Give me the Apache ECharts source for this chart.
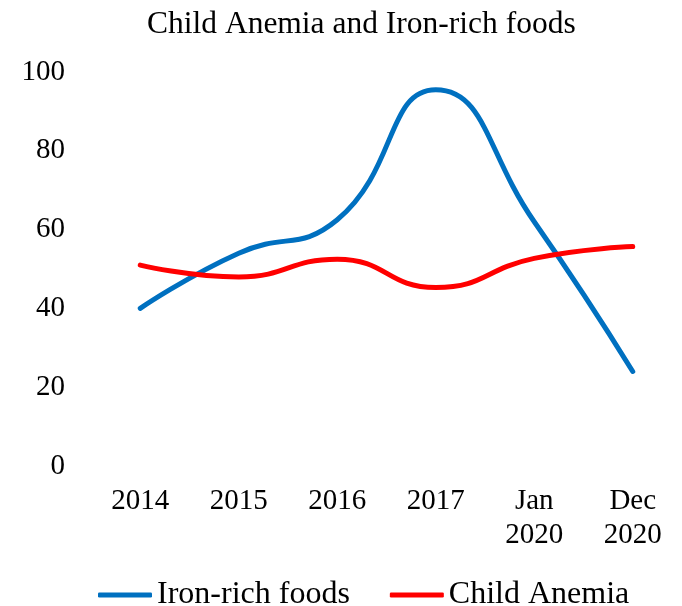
<!DOCTYPE html>
<html>
<head>
<meta charset="utf-8">
<script src="https://cdn.jsdelivr.net/npm/echarts@6/dist/echarts.min.js"></script>
<style>
  html, body { margin: 0; padding: 0; background: #fff; }
  #chart { width: 682px; height: 606px; }
</style>
</head>
<body>
<div id="chart"></div>
<script>
var categories = ['2014', '2015', '2016', '2017', 'Jan\n2020', 'Dec\n2020'];
var ironRichFoods = [40, 54, 62.5, 95.5, 62, 24];
var childAnemia = [51, 48, 52.5, 45.3, 52.7, 55.7];
var yTicks = { min: 0, max: 100, interval: 20 };

var font = '"Liberation Serif", "Times New Roman", serif';
var chart = echarts.init(document.getElementById('chart'));

var option = {
    animation: false,
    title: {
        text: 'Child Anemia and Iron-rich foods',
        left: 142,
        top: 4,
        textStyle: { fontFamily: font, fontSize: 31.5, fontWeight: 'normal', color: '#000' }
    },
    legend: {
        left: 93,
        top: 574,
        itemWidth: 54,
        itemHeight: 5,
        itemGap: 40,
        icon: 'roundRect',
        textStyle: { fontFamily: font, fontSize: 32, color: '#000' },
        data: ['Iron-rich foods', 'Child Anemia']
    },
    grid: { left: 91, right: -4, top: 72, bottom: 140 },
    xAxis: {
        type: 'category',
        data: categories,
        axisLine: { show: false },
        axisTick: { show: false },
        axisLabel: { fontFamily: font, fontSize: 29, color: '#000', lineHeight: 34, margin: 18 }
    },
    yAxis: {
        type: 'value',
        min: yTicks.min,
        max: yTicks.max,
        interval: yTicks.interval,
        splitLine: { show: false },
        axisLine: { show: false },
        axisTick: { show: false },
        axisLabel: { fontFamily: font, fontSize: 29, color: '#000', margin: 26 }
    },
    series: [
        {
            name: 'Iron-rich foods', type: 'line', smooth: true, data: ironRichFoods,
            showSymbol: false, symbol: 'none',
            itemStyle: { color: '#0070C0' },
            lineStyle: { color: '#0070C0', width: 5, cap: 'round' }
        },
        {
            name: 'Child Anemia', type: 'line', smooth: true, data: childAnemia,
            showSymbol: false, symbol: 'none',
            itemStyle: { color: '#FF0000' },
            lineStyle: { color: '#FF0000', width: 5, cap: 'round' }
        }
    ]
};

chart.setOption(option);
</script>
</body>
</html>
